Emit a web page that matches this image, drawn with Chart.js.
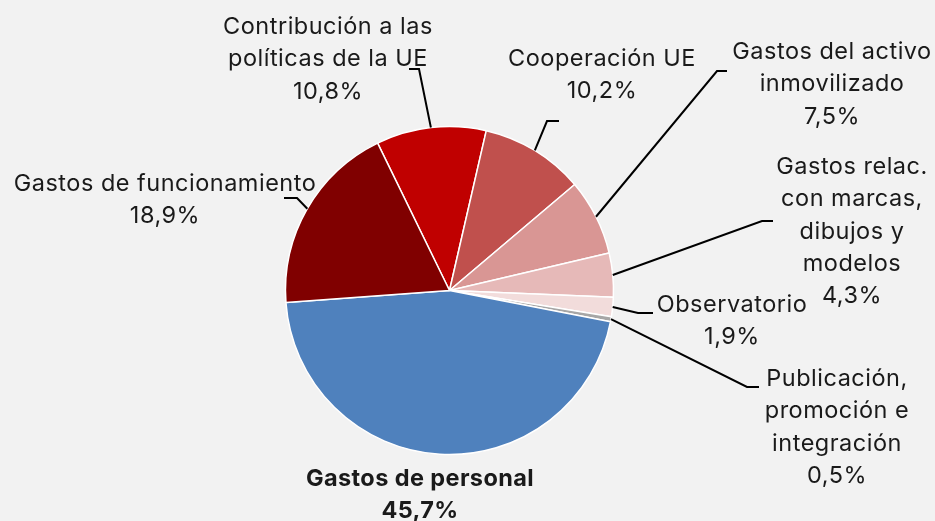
<!DOCTYPE html>
<html>
<head>
<meta charset="utf-8">
<script src="https://cdn.jsdelivr.net/npm/chart.js@4/dist/chart.umd.min.js"></script>
<style>
  html, body { margin: 0; padding: 0; background: #F2F2F2; }
  #wrap { width: 935px; height: 521px; position: relative; }
</style>
</head>
<body>
<div id="wrap"><canvas id="c" width="935" height="521"></canvas></div>
<script>
// ---- Data ----
const categories = [
  "Contribución a las políticas de la UE",
  "Cooperación UE",
  "Gastos del activo inmovilizado",
  "Gastos relac. con marcas, dibujos y modelos",
  "Observatorio",
  "Publicación, promoción e integración",
  "Gastos de personal",
  "Gastos de funcionamiento"
];
const values = [10.8, 10.2, 7.5, 4.3, 1.9, 0.5, 45.7, 18.9];
const valueLabels = ["10,8%", "10,2%", "7,5%", "4,3%", "1,9%", "0,5%", "45,7%", "18,9%"];
const labelLines = [
  ["Contribución a las", "políticas de la UE"],
  ["Cooperación UE"],
  ["Gastos del activo", "inmovilizado"],
  ["Gastos relac.", "con marcas,", "dibujos y", "modelos"],
  ["Observatorio"],
  ["Publicación,", "promoción e", "integración"],
  ["Gastos de personal"],
  ["Gastos de funcionamiento"]
];

// ---- Styles / layout ----
const colors = ["#C00000", "#C0504D", "#D99694", "#E6B9B8", "#F2DCDB", "#A6A6A6", "#4F81BD", "#800000"];
const labelBoxes = [
  { cx: 328, y: 27,  attach: [409, 69],  elbow: [419, 69] },
  { cx: 602, y: 59,  attach: [559, 121], elbow: [547, 121] },
  { cx: 832, y: 52,  attach: [727, 71],  elbow: [717, 71] },
  { cx: 852, y: 167, attach: [773, 221], elbow: [762, 221] },
  { cx: 732, y: 305, attach: [653, 313], elbow: [638, 313] },
  { cx: 837, y: 379, attach: [759, 387], elbow: [747, 387] },
  { cx: 420, y: 479, bold: true },
  { cx: 165, y: 184, attach: [284, 198], elbow: [297, 198] }
];
const lineH = 32.3;
const fontFamily = "Inter, 'Noto Sans', sans-serif";

const labelPlugin = {
  id: 'leaderLabels',
  afterDatasetsDraw(chart) {
    const ctx = chart.ctx;
    const meta = chart.getDatasetMeta(0);
    ctx.save();
    meta.data.forEach((arc, i) => {
      const box = labelBoxes[i];
      const p = arc.getProps(['x', 'y', 'startAngle', 'endAngle', 'outerRadius'], true);
      const mid = (p.startAngle + p.endAngle) / 2;
      if (box.attach) {
        const ex = p.x + Math.cos(mid) * p.outerRadius;
        const ey = p.y + Math.sin(mid) * p.outerRadius;
        ctx.strokeStyle = '#000000';
        ctx.lineWidth = 2;
        ctx.lineJoin = 'miter';
        ctx.beginPath();
        ctx.moveTo(ex, ey);
        ctx.lineTo(box.elbow[0], box.elbow[1]);
        ctx.lineTo(box.attach[0], box.attach[1]);
        ctx.stroke();
      }
      const lines = labelLines[i].concat([valueLabels[i]]);
      ctx.fillStyle = '#1A1A1A';
      ctx.font = (box.bold ? 'bold ' : '') + '23.5px ' + fontFamily;
      ctx.letterSpacing = box.bold ? '0.4px' : '0.5px';
      ctx.textAlign = 'center';
      ctx.textBaseline = 'middle';
      lines.forEach((t, k) => ctx.fillText(t, box.cx, box.y + k * lineH));
    });
    ctx.restore();
  }
};

new Chart(document.getElementById('c'), {
  type: 'pie',
  data: {
    labels: categories,
    datasets: [{
      data: values,
      backgroundColor: colors,
      borderColor: '#FFFFFF',
      borderWidth: 1.5,
      radius: 164
    }]
  },
  options: {
    responsive: false,
    animation: false,
    rotation: -26,
    layout: { padding: { left: 285, right: 321, top: 127, bottom: 67 } },
    plugins: { legend: { display: false }, tooltip: { enabled: false } }
  },
  plugins: [labelPlugin]
});
</script>
</body>
</html>
